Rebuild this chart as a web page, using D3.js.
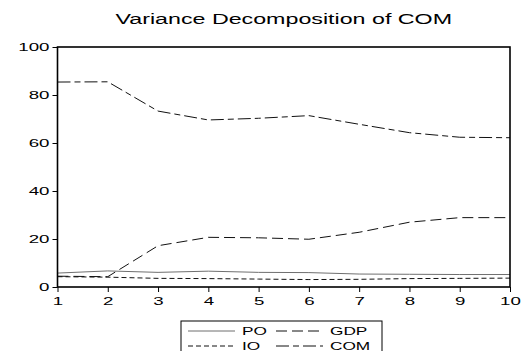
<!DOCTYPE html>
<meta charset="utf-8">
<style>
body { margin: 0; background: #fff; }
text { font-family: "Liberation Sans", Arial, sans-serif; fill: #000; }
.line { fill: none; stroke-width: 1px; }
.axis .domain { display: none; }
.axis line { stroke: #000; stroke-width: 1px; }
</style>
<svg width="522" height="351"></svg>
<script src="https://d3js.org/d3.v7.min.js"></script>
<script>

// values (forecast periods 1..10, percent)
var periods = [1, 2, 3, 4, 5, 6, 7, 8, 9, 10];
var po  = [5.8, 6.7, 6.1, 6.6, 6.1, 6.0, 5.4, 5.3, 5.2, 5.2];
var gdp = [4.5, 4.3, 17.2, 20.7, 20.5, 19.9, 22.8, 27.0, 28.9, 28.9];
var io  = [4.3, 4.1, 3.6, 3.5, 3.3, 3.1, 3.2, 3.5, 3.6, 3.7];
var com = [85.4, 85.5, 73.3, 69.6, 70.3, 71.4, 67.8, 64.3, 62.4, 62.2];
var yTicks = [0, 20, 40, 60, 80, 100];
var seriesNames = ["PO", "GDP", "IO", "COM"];
var titleText = "Variance Decomposition of COM";

var svg = d3.select("svg"),
    margin = {top: 47, right: 12, bottom: 64, left: 57.5},
    width = +svg.attr("width") - margin.left - margin.right,   // 452.5
    height = +svg.attr("height") - margin.top - margin.bottom, // 240
    g = svg.append("g").attr("transform", "translate(" + margin.left + "," + margin.top + ")");

var stretch = 1.55,     // text in the picture is drawn wide
    tickStretch = 1.7,
    legStretch = 1.5;

var x = d3.scaleLinear().domain([1, 10]).range([0, width]),
    y = d3.scaleLinear().domain([0, 100]).range([height, 0]);

var styles = {
  PO:  {stroke: "#6f6f6f", dash: null},
  GDP: {stroke: "#111", dash: "11,5"},
  IO:  {stroke: "#111", dash: "5,3"},
  COM: {stroke: "#111", dash: "13,4,6,4"}
};

var series = [po, gdp, io, com].map(function(vals, i) {
  return {
    id: seriesNames[i],
    values: periods.map(function(p, j) { return {period: p, value: vals[j]}; })
  };
});

var line = d3.line()
    .x(function(d) { return x(d.period); })
    .y(function(d) { return y(d.value); });

// title
svg.append("text")
    .attr("transform", "translate(" + (margin.left + width / 2) + ",24) scale(" + stretch + ",1)")
    .attr("text-anchor", "middle")
    .style("font-size", "15px")
    .text(titleText);

// axes
var yAxis = g.append("g")
    .attr("class", "axis axis--y")
    .call(d3.axisLeft(y).tickValues(yTicks).tickSize(5).tickPadding(3));
yAxis.selectAll("text")
    .style("font-size", "11px")
    .attr("x", -8 / tickStretch)
    .attr("transform", "scale(" + tickStretch + ",1)");

var xAxis = g.append("g")
    .attr("class", "axis axis--x")
    .attr("transform", "translate(0," + height + ")")
    .call(d3.axisBottom(x).tickValues(periods).tickFormat(d3.format("d")).tickSize(5).tickPadding(5));
xAxis.selectAll("text")
    .style("font-size", "11px")
    .attr("transform", "scale(" + tickStretch + ",1)");

// lines
g.selectAll(".series")
  .data(series)
  .enter().append("path")
    .attr("class", "line series")
    .attr("d", function(d) { return line(d.values); })
    .style("stroke", function(d) { return styles[d.id].stroke; })
    .style("stroke-dasharray", function(d) { return styles[d.id].dash; });

// frame
g.append("rect")
    .attr("width", width)
    .attr("height", height)
    .attr("fill", "none")
    .attr("stroke", "#000")
    .attr("stroke-width", 1.6);

// legend (two columns, box runs off the bottom)
var legend = svg.append("g").attr("transform", "translate(181,321)");
legend.append("rect")
    .attr("width", 201)
    .attr("height", 40)
    .attr("fill", "#fff")
    .attr("stroke", "#000")
    .attr("stroke-width", 1);

var item = legend.selectAll(".item")
  .data(seriesNames)
  .enter().append("g")
    .attr("class", "item")
    .attr("transform", function(d, i) { return "translate(" + (i % 2 ? 95 : 7) + "," + (i < 2 ? 10 : 25) + ")"; });

item.append("line")
    .attr("x1", 0).attr("x2", 47)
    .style("stroke", function(d) { return styles[d].stroke; })
    .style("stroke-width", 1)
    .style("stroke-dasharray", function(d) { return styles[d].dash; });

item.append("text")
    .attr("transform", "translate(54,4) scale(" + legStretch + ",1)")
    .style("font-size", "11.5px")
    .text(function(d) { return d; });

</script>
